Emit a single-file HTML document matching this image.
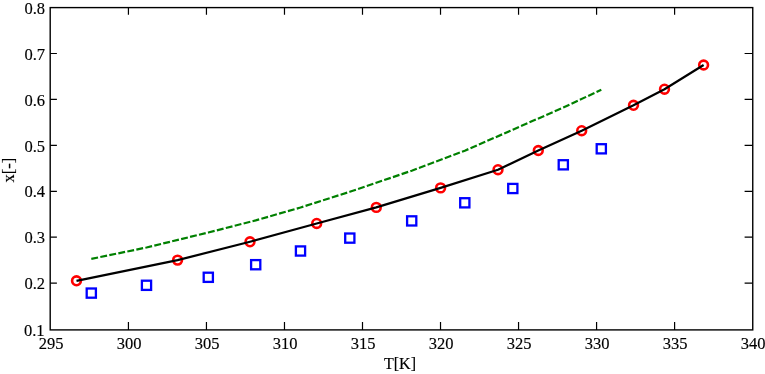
<!DOCTYPE html>
<html><head><meta charset="utf-8"><style>
html,body{margin:0;padding:0;background:#fff;}
body{width:765px;height:374px;overflow:hidden;font-family:"Liberation Serif",serif;}
svg{display:block;will-change:transform;}
</style></head><body>
<svg width="765" height="374" viewBox="0 0 765 374">
<rect width="765" height="374" fill="#fff"/>
<path d="M128.43 329.90V322M128.43 7.60V14.8M206.45 329.90V322M206.45 7.60V14.8M284.48 329.90V322M284.48 7.60V14.8M362.50 329.90V322M362.50 7.60V14.8M440.52 329.90V322M440.52 7.60V14.8M518.55 329.90V322M518.55 7.60V14.8M596.58 329.90V322M596.58 7.60V14.8M674.60 329.90V322M674.60 7.60V14.8M50.20 283.15H56.9M752.75 283.15H744.6M50.20 237.22H56.9M752.75 237.22H744.6M50.20 191.29H56.9M752.75 191.29H744.6M50.20 145.36H56.9M752.75 145.36H744.6M50.20 99.43H56.9M752.75 99.43H744.6M50.20 53.50H56.9M752.75 53.50H744.6" stroke="#000" stroke-width="1.2" fill="none"/>
<rect x="50.2" y="7.6" width="702.55" height="322.30" stroke="#000" stroke-width="1.4" fill="none"/>
<polyline points="91.3,258.90 146.5,247.50 208.3,232.50 255.7,220.40 300.5,207.50 349.8,191.80 411.7,170.70 464.8,150.70 512.8,129.70 563.3,107.50 601.3,89.80" stroke="#008000" stroke-width="2.2" fill="none" stroke-dasharray="6.9 2.3"/>
<circle cx="76.5" cy="280.8" r="4.4" stroke="#f00" stroke-width="2.6" fill="none"/>
<circle cx="177.6" cy="260.1" r="4.4" stroke="#f00" stroke-width="2.6" fill="none"/>
<circle cx="250" cy="241.8" r="4.4" stroke="#f00" stroke-width="2.6" fill="none"/>
<circle cx="316.7" cy="223.45" r="4.4" stroke="#f00" stroke-width="2.6" fill="none"/>
<circle cx="376.3" cy="207.4" r="4.4" stroke="#f00" stroke-width="2.6" fill="none"/>
<circle cx="440.6" cy="187.9" r="4.4" stroke="#f00" stroke-width="2.6" fill="none"/>
<circle cx="498" cy="169.7" r="4.4" stroke="#f00" stroke-width="2.6" fill="none"/>
<circle cx="538.3" cy="150.5" r="4.4" stroke="#f00" stroke-width="2.6" fill="none"/>
<circle cx="581.7" cy="130.7" r="4.4" stroke="#f00" stroke-width="2.6" fill="none"/>
<circle cx="633.5" cy="105.3" r="4.4" stroke="#f00" stroke-width="2.6" fill="none"/>
<circle cx="664.5" cy="89.2" r="4.4" stroke="#f00" stroke-width="2.6" fill="none"/>
<circle cx="703.6" cy="65.0" r="4.4" stroke="#f00" stroke-width="2.6" fill="none"/>
<polyline points="76.5,280.8 177.6,260.1 250,241.8 316.7,223.45 376.3,207.4 440.6,187.9 498,169.7 538.3,150.5 581.7,130.7 633.5,105.3 664.5,89.2 703.6,65.0" stroke="#000" stroke-width="2.2" fill="none" stroke-linejoin="round"/>
<rect x="86.70" y="288.50" width="9.2" height="9.2" stroke="#00f" stroke-width="2.3" fill="none"/>
<rect x="141.90" y="280.70" width="9.2" height="9.2" stroke="#00f" stroke-width="2.3" fill="none"/>
<rect x="203.70" y="272.70" width="9.2" height="9.2" stroke="#00f" stroke-width="2.3" fill="none"/>
<rect x="251.10" y="260.10" width="9.2" height="9.2" stroke="#00f" stroke-width="2.3" fill="none"/>
<rect x="295.90" y="246.40" width="9.2" height="9.2" stroke="#00f" stroke-width="2.3" fill="none"/>
<rect x="345.20" y="233.50" width="9.2" height="9.2" stroke="#00f" stroke-width="2.3" fill="none"/>
<rect x="407.10" y="216.30" width="9.2" height="9.2" stroke="#00f" stroke-width="2.3" fill="none"/>
<rect x="460.20" y="198.20" width="9.2" height="9.2" stroke="#00f" stroke-width="2.3" fill="none"/>
<rect x="508.20" y="183.90" width="9.2" height="9.2" stroke="#00f" stroke-width="2.3" fill="none"/>
<rect x="558.70" y="160.20" width="9.2" height="9.2" stroke="#00f" stroke-width="2.3" fill="none"/>
<rect x="596.70" y="144.20" width="9.2" height="9.2" stroke="#00f" stroke-width="2.3" fill="none"/>
<g font-family="Liberation Serif, serif" font-size="16.5" fill="#000" stroke="#000" stroke-width="0.15"><text x="51.00" y="348.5" text-anchor="middle">295</text><text x="129.03" y="348.5" text-anchor="middle">300</text><text x="207.05" y="348.5" text-anchor="middle">305</text><text x="285.08" y="348.5" text-anchor="middle">310</text><text x="363.10" y="348.5" text-anchor="middle">315</text><text x="441.12" y="348.5" text-anchor="middle">320</text><text x="519.15" y="348.5" text-anchor="middle">325</text><text x="597.18" y="348.5" text-anchor="middle">330</text><text x="675.20" y="348.5" text-anchor="middle">335</text><text x="753.23" y="348.5" text-anchor="middle">340</text><text x="44.6" y="336.28" text-anchor="end">0.1</text><text x="45.0" y="289.35" text-anchor="end">0.2</text><text x="45.0" y="243.42" text-anchor="end">0.3</text><text x="45.0" y="197.49" text-anchor="end">0.4</text><text x="45.0" y="151.56" text-anchor="end">0.5</text><text x="45.0" y="105.63" text-anchor="end">0.6</text><text x="45.0" y="59.70" text-anchor="end">0.7</text><text x="45.0" y="13.77" text-anchor="end">0.8</text><text x="400" y="369" text-anchor="middle" font-size="16">T[K]</text><text transform="translate(14.2 170.1) rotate(-90)" text-anchor="middle">x[-]</text></g>
</svg>
</body></html>
